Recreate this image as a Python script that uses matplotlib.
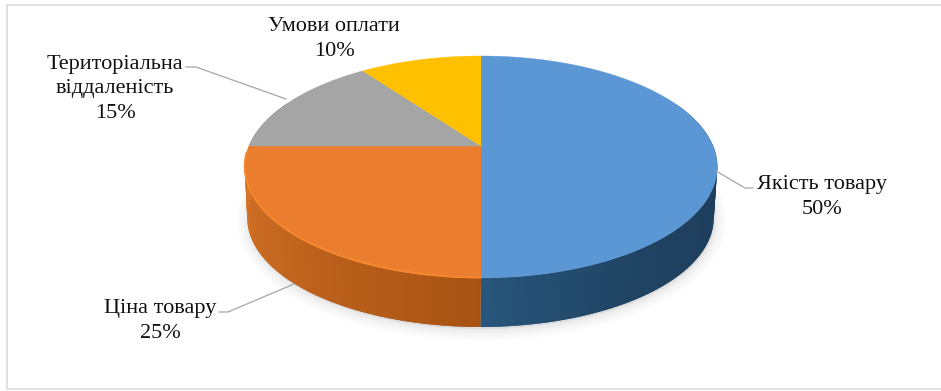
import numpy as np
import matplotlib
matplotlib.use("Agg")
import matplotlib.pyplot as plt
from matplotlib.colors import to_rgb
from matplotlib.patches import Polygon, Rectangle

# Survey shares, clockwise from twelve o'clock
categories = ["Якість товару", "Ціна товару", "Територіальна\nвіддаленість", "Умови оплати"]
shares = [50, 25, 15, 10]
top_colors = ["#5b97d5", "#ea7e2e", "#a5a5a5", "#ffc000"]
side_from = ["#28567c", "#a85314", "#7a7a7a", "#bf9000"]
side_to = ["#1e3e5c", "#da7629", "#7a7a7a", "#bf9000"]

plt.rcParams["font.family"] = ["Liberation Serif", "DejaVu Serif"]

fig = plt.figure(figsize=(9.41, 3.91), dpi=100)
ax = fig.add_axes([0, 0, 1, 1])
ax.set_xlim(0, 941)
ax.set_ylim(391, 0)
ax.axis("off")

ax.add_patch(Rectangle((7, 5), 945, 384, fc="white", ec="#dcdcdc", lw=1.2))


def project(frac, cx, cy, a, b, k=0.189):
    """Perspective view of a point on the disc rim; frac runs clockwise from the top."""
    theta = 2 * np.pi * np.asarray(frac)
    x, y = np.sin(theta), np.cos(theta)
    d = 1 + k * y
    return cx + b * x / d, cy - a * y / d


TOP = dict(cx=481, cy=146, a=107, b=232)
BASE = dict(cx=480.5, cy=197.5, a=105, b=229)

# Soft shadow under the base of the disc
ring = np.linspace(0, 1, 241)
bx, by = project(ring, **BASE)
for width in (16, 12, 8, 5, 3):
    ax.add_patch(Polygon(np.c_[bx + 1, by + 2], closed=True, fc="#909090", ec="#909090",
                         lw=width, alpha=0.03, joinstyle="round"))

edges = np.cumsum([0] + shares) / sum(shares)

# Rim of the disc: overlapping strips, painted in order so no seams show
for i in range(len(shares)):
    lo, hi = max(edges[i], 0.18), min(edges[i + 1], 0.82)
    if hi <= lo:
        continue
    steps = np.linspace(lo, hi, 70)
    c0, c1 = np.array(to_rgb(side_from[i])), np.array(to_rgb(side_to[i]))
    for j in range(len(steps) - 1):
        s = steps[j:j + 3]
        tx, ty = project(s, **TOP)
        qx, qy = project(s, **BASE)
        pos = j / (len(steps) - 2)
        # blue darkens away from the middle, orange brightens toward the left
        col = c1 + (c0 - c1) * pos ** 4 if i == 0 else c0 + (c1 - c0) * pos
        ax.add_patch(Polygon(np.c_[np.r_[tx, qx[::-1]], np.r_[ty, qy[::-1]]], closed=True,
                             fc=col, ec="none", lw=0))

# Top face wedges
for i in range(len(shares)):
    s = np.linspace(edges[i], edges[i + 1], 120)
    x, y = project(s, **TOP)
    ax.add_patch(Polygon(np.c_[np.r_[TOP["cx"], x], np.r_[TOP["cy"], y]], closed=True,
                         fc=top_colors[i], ec=top_colors[i], lw=0.3))

# Light bevel along the near edge of the orange wedge
s = np.linspace(edges[1], min(edges[2], 0.74), 120)
x, y = project(s, **TOP)
ax.plot(x, y - 0.5, color="#f5882f", lw=1.4, solid_capstyle="round")

# Leader lines
leaders = [
    ([716, 745, 753], [171, 188, 188]),
    ([294, 228, 219], [284, 312, 312]),
    ([286, 196, 186], [99, 67, 67]),
]
for lx, ly in leaders:
    ax.plot(lx, ly, color="#a6a6a6", lw=0.9)

# Category labels with percentages
anchors = [(822, 197), (160, 321), (115, 89), (334, 39)]
for name, share, (px, py) in zip(categories, shares, anchors):
    ax.text(px, py, f"{name}\n{share}%", ha="center", va="center", fontsize=16,
            color="#111111", linespacing=1.4)

fig.savefig("out.png", dpi=100)
